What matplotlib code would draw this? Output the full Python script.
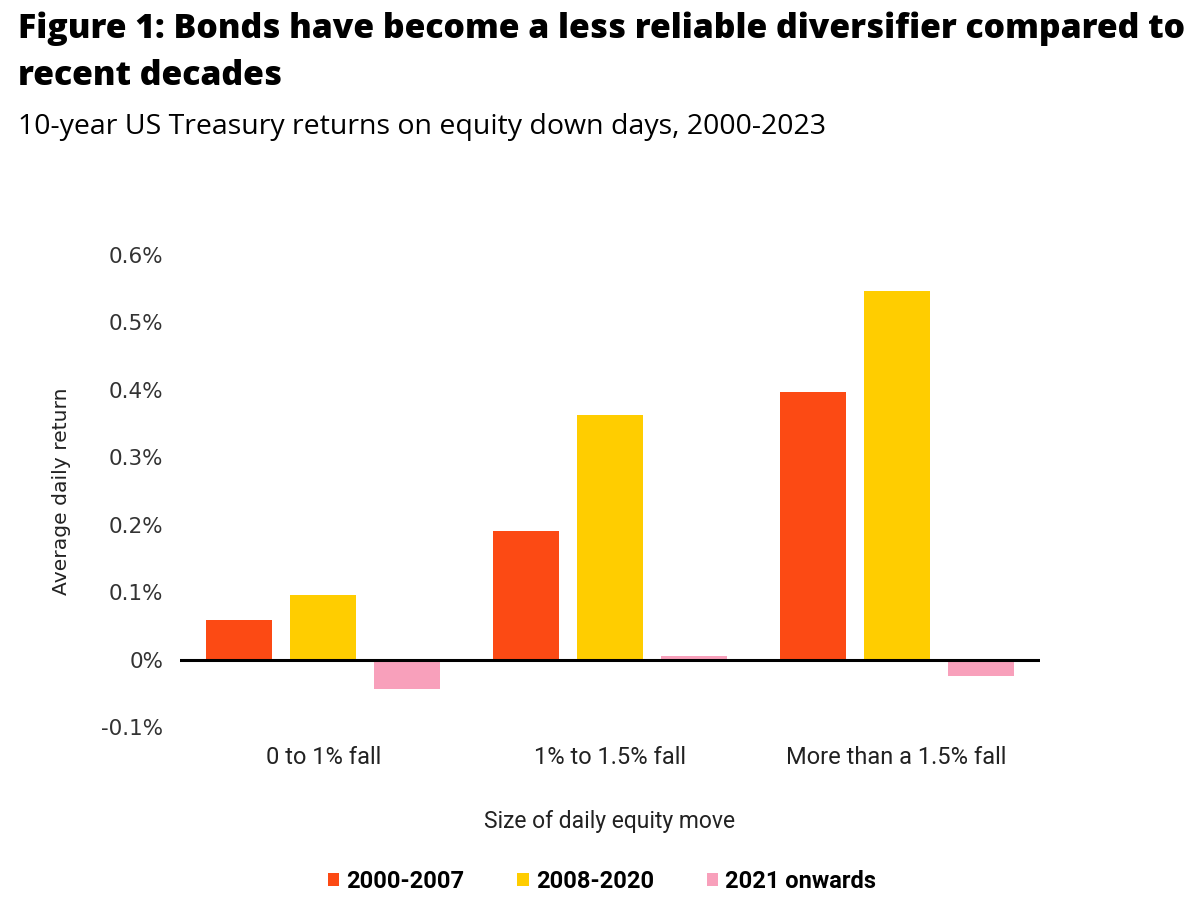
import matplotlib
matplotlib.use("Agg")
import matplotlib.pyplot as plt
import numpy as np
from matplotlib.patches import Patch

categories = ["0 to 1% fall", "1% to 1.5% fall", "More than a 1.5% fall"]
series_names = ["2000-2007", "2008-2020", "2021 onwards"]
s2000_2007 = [0.059, 0.190, 0.397]
s2008_2020 = [0.096, 0.362, 0.547]
s2021_on = [-0.044, 0.005, -0.025]
yticks = [-0.1, 0.0, 0.1, 0.2, 0.3, 0.4, 0.5, 0.6]
ytick_labels = ["-0.1%", "0%", "0.1%", "0.2%", "0.3%", "0.4%", "0.5%", "0.6%"]
colors = ["#FC4A14", "#FFCD00", "#F8A0BB"]

W, H = 1204, 916
fig = plt.figure(figsize=(W / 100, H / 100), dpi=100)
fig.patch.set_facecolor("white")

fig.text(18 / W, 1 - 38 / H, "Figure 1: Bonds have become a less reliable diversifier compared to",
         fontsize=24.3, fontweight=800, family="Open Sans", ha="left", va="baseline")
fig.text(18 / W, 1 - 85 / H, "recent decades",
         fontsize=24.3, fontweight=800, family="Open Sans", ha="left", va="baseline")
fig.text(18 / W, 1 - 134 / H, "10-year US Treasury returns on equity down days, 2000-2023",
         fontsize=20.5, family="Open Sans", ha="left", va="baseline")

left, right = 180 / W, 1040 / W
bottom, top = 1 - 727 / H, 1 - 255 / H
ax = fig.add_axes([left, bottom, right - left, top - bottom])

x = np.arange(len(categories))
width = 0.23
offset = 0.293
all_series = [s2000_2007, s2008_2020, s2021_on]
for i, (vals, c) in enumerate(zip(all_series, colors)):
    ax.bar(x + (i - 1) * offset, vals, width=width, color=c, zorder=2)

ax.axhline(0, color="black", lw=2.2, zorder=3)
ax.set_xlim(-0.5, 2.5)
ax.set_ylim(-0.1, 0.6)
for s in ax.spines.values():
    s.set_visible(False)
ax.set_yticks(yticks)
ax.set_yticklabels(ytick_labels, family="DejaVu Sans", fontsize=15.5, color="#333333")
ax.set_xticks(x)
ax.set_xticklabels(categories, family="Roboto", fontsize=17, color="#222222")
ax.tick_params(axis="both", length=0)
ax.tick_params(axis="y", pad=12)
ax.tick_params(axis="x", pad=14)
ax.set_ylabel("Average daily return", family="DejaVu Sans", fontsize=14.6, color="#222222", labelpad=21.5)
ax.set_xlabel("Size of daily equity move", family="Roboto", fontsize=16.5, color="#222222", labelpad=29)

handles = [Patch(facecolor=c, edgecolor="none") for c in colors]
leg = fig.legend(handles, series_names, loc="center", bbox_to_anchor=(602 / W, 1 - 881 / H),
                 ncol=3, frameon=False, prop={"family": "Roboto", "weight": "bold", "size": 17},
                 handlelength=0.48, handleheight=0.48, handletextpad=0.3, columnspacing=2.25)

fig.savefig("out.png", dpi=100, facecolor="white")
